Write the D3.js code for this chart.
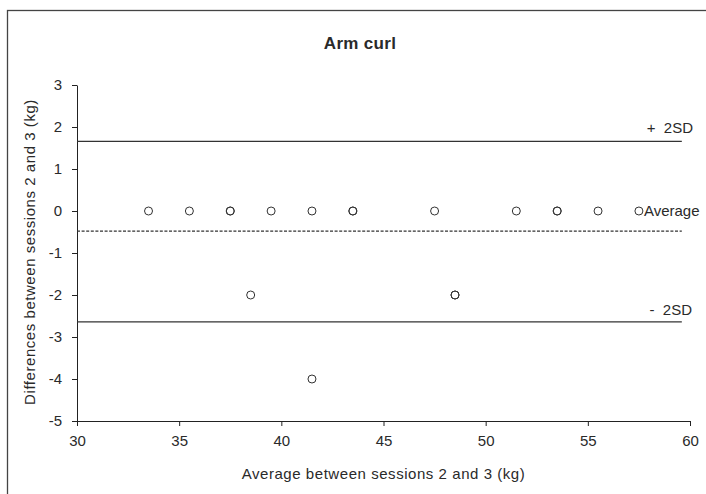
<!DOCTYPE html>
<html>
<head>
<meta charset="utf-8">
<script src="https://cdnjs.cloudflare.com/ajax/libs/d3/7.8.5/d3.min.js"></script>
<style>
  body { margin: 0; background: #fff; }
  text { font-family: "Liberation Sans", Arial, sans-serif; fill: #2a2a2a; }
</style>
</head>
<body>
<div id="chart"></div>
<script>
// averages between sessions (x) and differences (y), duplicates overlap
const avgValues = [33.5, 35.5, 37.5, 37.5, 39.5, 41.5, 43.5, 43.5, 47.5, 51.5, 53.5, 53.5, 55.5, 57.5, 38.5, 48.5, 48.5, 41.5];
const diffValues = [0, 0, 0, 0, 0, 0, 0, 0, 0, 0, 0, 0, 0, 0, -2, -2, -2, -4];

// reference lines: mean and +/- 2SD
const refNames = ['+  2SD', 'Average', '-  2SD'];
const refValues = [1.66, -0.48, -2.64];
const refLineEnd = 59.6;

const xTicks = [30, 35, 40, 45, 50, 55, 60];
const yTicks = [3, 2, 1, 0, -1, -2, -3, -4, -5];

const W = 706, H = 494;
const margin = {left: 77, right: 16, top: 85, bottom: 73};
const fontFam = '"Liberation Sans", Arial, sans-serif';

const svg = d3.select('#chart').append('svg')
    .attr('width', W)
    .attr('height', H);

// outer frame (runs off the right and bottom edges)
svg.append('rect')
    .attr('x', 7.5).attr('y', 10.5)
    .attr('width', 720).attr('height', 500)
    .attr('fill', 'none')
    .attr('stroke', '#444')
    .attr('stroke-width', 1.3);

const x = d3.scaleLinear().domain([30, 60]).range([margin.left, W - margin.right]);
const y = d3.scaleLinear().domain([-5, 3]).range([H - margin.bottom, margin.top]);

svg.append('text')
    .attr('x', 360).attr('y', 49)
    .attr('text-anchor', 'middle')
    .attr('font-size', '17px')
    .attr('font-weight', 'bold')
    .attr('letter-spacing', '0.3px')
    .text('Arm curl');

// x axis
const xAxis = svg.append('g')
    .attr('transform', 'translate(0,' + y(-5) + ')')
    .call(d3.axisBottom(x).tickValues(xTicks).tickFormat(d => String(d))
      .tickSize(5).tickPadding(9).tickSizeOuter(0));
xAxis.select('.domain').attr('stroke', '#222');
xAxis.selectAll('.tick line').attr('stroke', '#222');
xAxis.selectAll('text').attr('font-size', '15px').attr('fill', '#2a2a2a')
    .attr('font-family', fontFam);

// y axis
const yAxis = svg.append('g')
    .attr('transform', 'translate(' + x(30) + ',0)')
    .call(d3.axisLeft(y).tickValues(yTicks).tickFormat(d => String(d))
      .tickSize(5).tickPadding(10).tickSizeOuter(0));
yAxis.select('.domain').attr('stroke', '#222');
yAxis.selectAll('.tick line').attr('stroke', '#222');
yAxis.selectAll('text').attr('font-size', '15px').attr('fill', '#2a2a2a')
    .attr('font-family', fontFam);

// reference lines
svg.selectAll('.ref')
    .data(refValues)
  .enter().append('line')
    .attr('class', 'ref')
    .attr('x1', x(30)).attr('x2', x(refLineEnd))
    .attr('y1', d => y(d)).attr('y2', d => y(d))
    .attr('stroke', '#333')
    .attr('stroke-width', 1.2)
    .attr('stroke-dasharray', (d, i) => i === 1 ? '3,1.6' : null);

// labels for the reference lines
svg.append('text')
    .attr('x', 693).attr('y', y(refValues[0]) - 8)
    .attr('text-anchor', 'end').attr('font-size', '15px')
    .attr('xml:space', 'preserve').style('white-space', 'pre')
    .text(refNames[0]);
svg.append('text')
    .attr('x', 692).attr('y', y(refValues[2]) - 7)
    .attr('text-anchor', 'end').attr('font-size', '15px')
    .attr('xml:space', 'preserve').style('white-space', 'pre')
    .text(refNames[2]);
svg.append('text')
    .attr('x', x(57.5) + 5).attr('y', y(0) + 5)
    .attr('font-size', '15px')
    .text(refNames[1]);

// points
svg.selectAll('.pt')
    .data(avgValues)
  .enter().append('circle')
    .attr('class', 'pt')
    .attr('cx', d => x(d))
    .attr('cy', (d, i) => y(diffValues[i]))
    .attr('r', 4)
    .attr('fill', 'none')
    .attr('stroke', '#333')
    .attr('stroke-width', 1);

// axis titles
svg.append('text')
    .attr('x', (x(30) + x(60)) / 2).attr('y', 479)
    .attr('text-anchor', 'middle').attr('font-size', '15px')
    .attr('letter-spacing', '0.55px')
    .text('Average between sessions 2 and 3 (kg)');
svg.append('text')
    .attr('transform', 'translate(35,' + 252 + ') rotate(-90)')
    .attr('text-anchor', 'middle').attr('font-size', '15px')
    .attr('letter-spacing', '0.55px')
    .text('Differences between sessions 2 and 3 (kg)');
</script>
</body>
</html>
